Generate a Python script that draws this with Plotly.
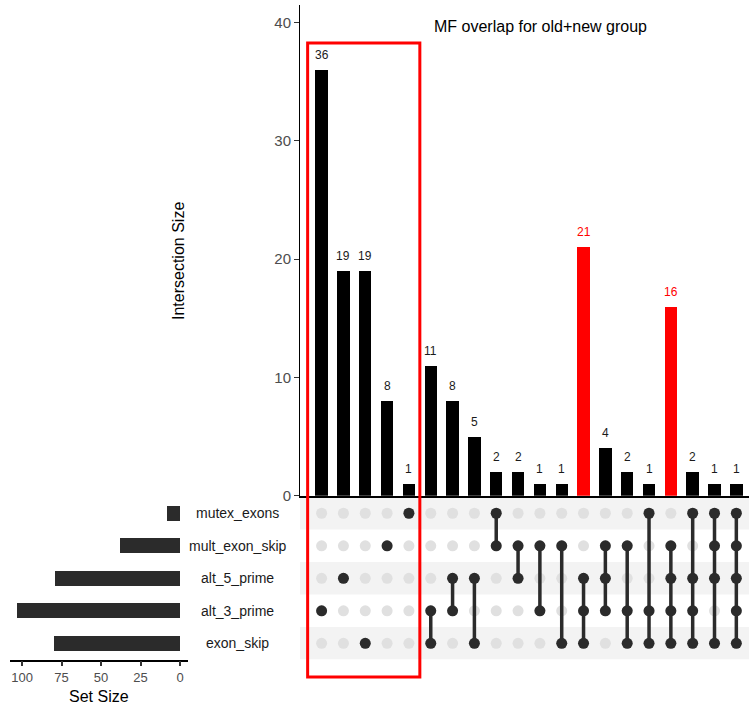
import plotly.graph_objects as go

# ---- data -------------------------------------------------------------
sets = ["mutex_exons", "mult_exon_skip", "alt_5_prime", "alt_3_prime", "exon_skip"]
set_sizes = [8, 38, 79, 103, 80]

intersection_sizes = [36, 19, 19, 8, 1, 11, 8, 5, 2, 2, 1, 1, 21, 4, 2, 1, 16, 2, 1, 1]
intersection_members = [
    ["alt_3_prime"],
    ["alt_5_prime"],
    ["exon_skip"],
    ["mult_exon_skip"],
    ["mutex_exons"],
    ["alt_3_prime", "exon_skip"],
    ["alt_5_prime", "alt_3_prime"],
    ["alt_5_prime", "exon_skip"],
    ["mutex_exons", "mult_exon_skip"],
    ["mult_exon_skip", "alt_5_prime"],
    ["mult_exon_skip", "alt_3_prime"],
    ["mult_exon_skip", "exon_skip"],
    ["alt_5_prime", "alt_3_prime", "exon_skip"],
    ["mult_exon_skip", "alt_5_prime", "alt_3_prime"],
    ["mult_exon_skip", "alt_3_prime", "exon_skip"],
    ["mutex_exons", "alt_3_prime", "exon_skip"],
    ["mult_exon_skip", "alt_5_prime", "alt_3_prime", "exon_skip"],
    ["mutex_exons", "alt_5_prime", "alt_3_prime", "exon_skip"],
    ["mutex_exons", "mult_exon_skip", "alt_5_prime", "exon_skip"],
    ["mutex_exons", "mult_exon_skip", "alt_5_prime", "alt_3_prime", "exon_skip"],
]
highlighted = [
    ["alt_5_prime", "alt_3_prime", "exon_skip"],
    ["mult_exon_skip", "alt_5_prime", "alt_3_prime", "exon_skip"],
]
title_text = "MF overlap for old+new group"

# ---- layout geometry (pixels in a 749x706 canvas) ----------------------
W, H = 749, 706
FONT = "Liberation Sans, Arial, Helvetica, sans-serif"
DARK = "#2b2b2b"
LIGHT = "#e0e0e0"
RED = "#ff0000"


def px_x(p):
    return p / W


def px_y(p):
    return 1 - p / H


cols = list(range(len(intersection_sizes)))
row_of = {s: i for i, s in enumerate(sets)}
is_hl = [m in highlighted for m in intersection_members]
bar_colors = [RED if h else "#000000" for h in is_hl]

fig = go.Figure()

# intersection size bars
fig.add_trace(go.Bar(
    x=cols, y=intersection_sizes, width=0.57,
    marker=dict(color=bar_colors, line=dict(width=0)),
    xaxis="x", yaxis="y", hoverinfo="x+y", showlegend=False,
))

# matrix: background dots
bg_x, bg_y = [], []
for c in cols:
    for r in range(len(sets)):
        bg_x.append(c)
        bg_y.append(r)
fig.add_trace(go.Scatter(
    x=bg_x, y=bg_y, mode="markers",
    marker=dict(size=11, color=LIGHT),
    xaxis="x2", yaxis="y2", hoverinfo="skip", showlegend=False,
))

# matrix: connecting segments
seg_x, seg_y = [], []
for c, members in zip(cols, intersection_members):
    rows = [row_of[s] for s in members]
    if len(rows) > 1:
        seg_x += [c, c, None]
        seg_y += [min(rows), max(rows), None]
fig.add_trace(go.Scatter(
    x=seg_x, y=seg_y, mode="lines",
    line=dict(color=DARK, width=3.5),
    xaxis="x2", yaxis="y2", hoverinfo="skip", showlegend=False,
))

# matrix: active dots
on_x, on_y = [], []
for c, members in zip(cols, intersection_members):
    for s in members:
        on_x.append(c)
        on_y.append(row_of[s])
fig.add_trace(go.Scatter(
    x=on_x, y=on_y, mode="markers",
    marker=dict(size=11, color=DARK),
    xaxis="x2", yaxis="y2", hoverinfo="skip", showlegend=False,
))

# set size bars
fig.add_trace(go.Bar(
    x=set_sizes, y=list(range(len(sets))), orientation="h", width=0.46,
    marker=dict(color=DARK, line=dict(width=0)),
    xaxis="x3", yaxis="y3", showlegend=False,
))

x_dom = [px_x(300), 1.0]
x_range = [-0.99, 19.58]
main_dom = [px_y(495.7), px_y(5)]
mat_dom = [px_y(659.6), px_y(497)]

annotations = []
# value labels above bars
for c, v, col in zip(cols, intersection_sizes, bar_colors):
    annotations.append(dict(
        x=c, y=v, xref="x", yref="y", text=str(v), showarrow=False,
        yanchor="bottom", yshift=6,
        font=dict(family=FONT, size=12, color=RED if col == RED else "#1a1a1a"),
    ))
# set names
for i, s in enumerate(sets):
    annotations.append(dict(
        x=px_x(238), y=i, xref="paper", yref="y2", text=s, showarrow=False,
        xanchor="center", font=dict(family=FONT, size=14, color="#1a1a1a"),
    ))
# titles
annotations += [
    dict(x=px_x(432), y=px_y(27), xref="paper", yref="paper", text=title_text,
         showarrow=False, xanchor="left", yanchor="middle",
         font=dict(family=FONT, size=16, color="#000000")),
    dict(x=px_x(179), y=px_y(261), xref="paper", yref="paper", text="Intersection Size",
         showarrow=False, textangle=-90, xanchor="center", yanchor="middle",
         font=dict(family=FONT, size=16, color="#000000")),
    dict(x=px_x(99), y=px_y(696), xref="paper", yref="paper", text="Set Size",
         showarrow=False, xanchor="center", yanchor="middle",
         font=dict(family=FONT, size=16, color="#000000")),
]

shapes = []
# alternating row stripes in the matrix
for i in range(0, len(sets), 2):
    shapes.append(dict(
        type="rect", xref="paper", yref="y2", x0=px_x(300), x1=1.0,
        y0=i - 0.5, y1=i + 0.5, fillcolor="#f3f3f3", line=dict(width=0),
        layer="below",
    ))
# highlight box around the single-set intersections
shapes.append(dict(
    type="rect", xref="x", yref="paper", x0=-0.64, x1=4.5,
    y0=px_y(677), y1=px_y(43), line=dict(color=RED, width=3),
    fillcolor="rgba(0,0,0,0)", layer="above",
))

fig.update_layout(
    width=W, height=H,
    margin=dict(l=0, r=0, t=0, b=0, pad=0),
    paper_bgcolor="white", plot_bgcolor="rgba(0,0,0,0)",
    font=dict(family=FONT),
    bargap=0,
    xaxis=dict(domain=x_dom, range=x_range, anchor="y", showticklabels=False,
               ticks="", showgrid=False, zeroline=False, automargin=False,
               showline=True, linecolor="#000000", linewidth=1.5),
    yaxis=dict(domain=main_dom, range=[0, 41.5], anchor="x",
               tickvals=[0, 10, 20, 30, 40], ticks="outside", ticklen=5,
               tickwidth=1, tickcolor="#333333", automargin=False,
               tickfont=dict(family=FONT, size=15, color="#4d4d4d"),
               showgrid=False, zeroline=False,
               showline=True, linecolor="#000000", linewidth=1),
    xaxis2=dict(domain=x_dom, range=x_range, anchor="y2", matches="x",
                visible=False, automargin=False),
    yaxis2=dict(domain=mat_dom, range=[4.5, -0.5], anchor="x2", visible=False,
                automargin=False),
    xaxis3=dict(domain=[px_x(10), px_x(188)], range=[107.6, -5.06], anchor="y3",
                tickvals=[0, 25, 50, 75, 100], ticks="outside", ticklen=5,
                tickwidth=1.5, tickcolor="#333333", automargin=False,
                tickfont=dict(family=FONT, size=13, color="#4d4d4d"),
                showgrid=False, zeroline=False,
                showline=True, linecolor="#000000", linewidth=1.5),
    yaxis3=dict(domain=mat_dom, range=[4.5, -0.5], anchor="x3", visible=False,
                automargin=False),
    annotations=annotations,
    shapes=shapes,
)

fig.write_html("out.html")
